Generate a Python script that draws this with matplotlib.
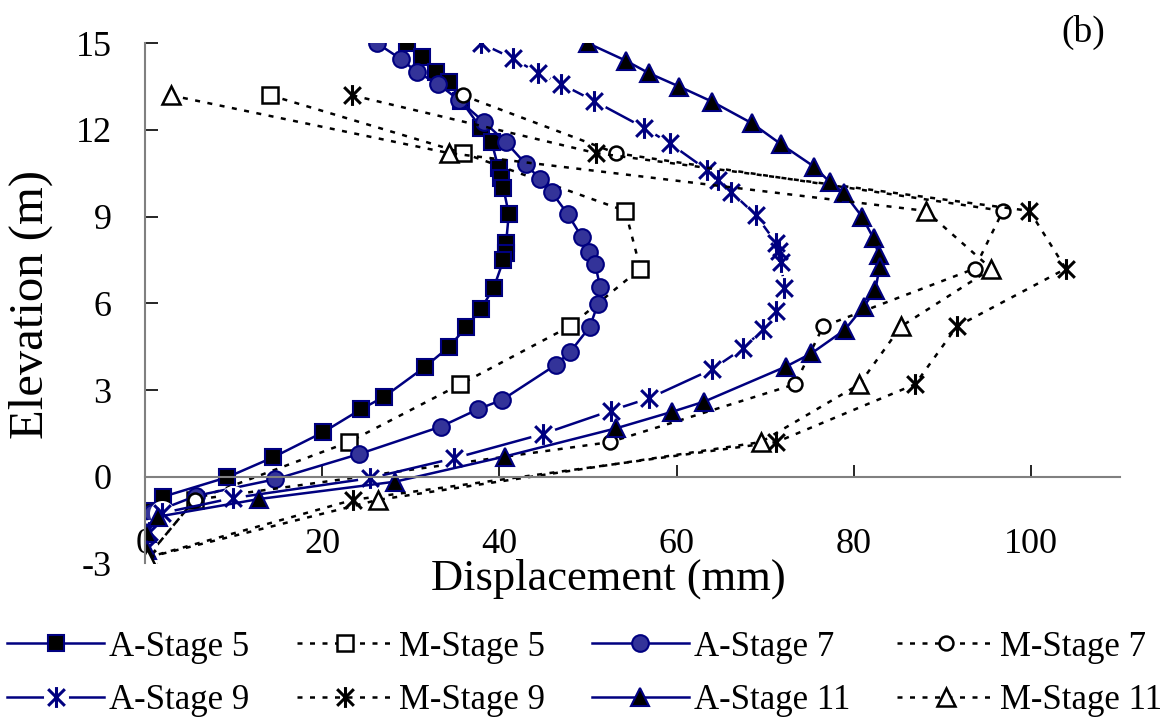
import matplotlib
matplotlib.use("Agg")
import matplotlib.pyplot as plt
from matplotlib.path import Path

plt.rcParams['font.family'] = ['Liberation Serif', 'DejaVu Serif']

# analysis results (A) and measured values (M), displacement in mm vs elevation in m
a5_x = [29.6, 31.3, 32.8, 34.3, 35.7, 37.9, 39.1, 39.9, 40.2, 40.45, 41.05, 40.75, 40.75, 40.45, 39.35,
        37.9, 36.25, 34.25, 31.55, 27.0, 24.4, 20.1, 14.45, 9.27, 2.06, 0.6, 0.2, 0.1, 0.0]
a5_y = [15.0, 14.53, 14.0, 13.66, 13.0, 12.07, 11.6, 10.67, 10.33, 9.98, 9.09, 8.1, 7.76, 7.5, 6.54,
        5.8, 5.17, 4.48, 3.79, 2.77, 2.34, 1.54, 0.67, -0.02, -0.69, -1.2, -1.9, -2.5, -2.9]

a7_x = [26.2, 28.9, 30.7, 33.05, 35.4, 38.2, 40.75, 43.0, 44.6, 45.9, 47.7, 49.3, 50.1, 50.8, 51.35,
        51.1, 50.2, 48.0, 46.4, 40.3, 37.6, 33.35, 24.1, 14.65, 5.8, 0.75, 0.2, 0.1, 0.0]
a7_y = [15.0, 14.45, 14.0, 13.6, 13.04, 12.29, 11.57, 10.81, 10.29, 9.84, 9.09, 8.29, 7.79, 7.35, 6.58,
        5.98, 5.19, 4.33, 3.88, 2.66, 2.34, 1.73, 0.78, -0.09, -0.66, -1.26, -1.9, -2.5, -2.9]

a9_x = [37.9, 41.5, 44.4, 46.9, 50.7, 56.3, 59.2, 63.4, 64.6, 66.1, 68.9, 71.2, 71.5, 71.8, 72.1,
        71.25, 69.75, 67.5, 64.0, 56.9, 52.6, 44.9, 34.9, 25.4, 9.9, 1.9, 0.4, 0.1, 0.0]
a9_y = [15.0, 14.48, 13.96, 13.6, 13.0, 12.08, 11.54, 10.62, 10.27, 9.87, 9.06, 8.1, 7.8, 7.44, 6.52,
        5.74, 5.1, 4.45, 3.72, 2.72, 2.29, 1.48, 0.64, -0.05, -0.74, -1.26, -1.9, -2.5, -2.9]

a11_x = [50.0, 54.25, 56.9, 60.3, 64.0, 68.5, 71.8, 75.5, 77.3, 78.9, 80.9, 82.2, 82.8, 82.9, 82.4,
         81.1, 78.95, 75.2, 72.3, 63.1, 59.5, 53.2, 40.6, 28.25, 12.9, 1.5, 0.2, 0.2, 0.2]
a11_y = [15.0, 14.4, 13.96, 13.5, 12.98, 12.23, 11.5, 10.73, 10.19, 9.81, 9.0, 8.25, 7.67, 7.27, 6.46,
         5.89, 5.08, 4.27, 3.81, 2.6, 2.25, 1.68, 0.7, -0.17, -0.77, -1.38, -1.95, -2.53, -3.0]

m_elev = [13.2, 11.2, 9.2, 7.2, 5.2, 3.2, 1.2, -0.8, -2.8]
m5_x = [14.16, 35.9, 54.2, 55.9, 47.9, 35.6, 23.0, 5.6, 0.2]
m7_x = [35.85, 53.15, 96.8, 93.6, 76.5, 73.35, 52.5, 5.6, 0.2]
m9_x = [23.4, 50.9, 99.8, 103.9, 91.6, 86.9, 71.25, 23.5, 0.2]
m11_x = [2.9, 34.3, 88.1, 95.5, 85.3, 80.6, 69.5, 26.3, 0.2]

x_ticks = [0, 20, 40, 60, 80, 100]
y_ticks = [-3, 0, 3, 6, 9, 12, 15]

navy = '#000080'
# six-armed star like the spreadsheet marker
star = Path([(-1, -1), (1, 1), (-1, 1), (1, -1), (0, -1.25), (0, 1.25)],
            [Path.MOVETO, Path.LINETO, Path.MOVETO, Path.LINETO, Path.MOVETO, Path.LINETO])
mdash = (0, (2, 3))

fig = plt.figure(figsize=(11.69, 7.17), dpi=100)
ax = fig.add_axes([0.124, 0.2142, 0.834, 0.7254])

h_a5, = ax.plot(a5_x, a5_y, color=navy, lw=1.8, marker='s', ms=11, mfc='black', mec=navy, mew=1.5)
h_m5, = ax.plot(m5_x, m_elev, color='black', lw=1.8, ls=mdash, marker='s', ms=12, mfc='white',
                mec='black', mew=1.8)
h_a7, = ax.plot(a7_x, a7_y, color=navy, lw=1.8, marker='o', ms=12, mfc='#333399', mec=navy, mew=1.5)
h_m7, = ax.plot(m7_x, m_elev, color='black', lw=1.8, ls=mdash, marker='o', ms=10, mfc='white',
                mec='black', mew=1.8)
h_a9l, = ax.plot(a9_x, a9_y, color=navy, lw=1.8)
h_a9w, = ax.plot(a9_x, a9_y, ls='none', marker='o', ms=18, mfc='white', mec='none')
h_a9m, = ax.plot(a9_x, a9_y, ls='none', marker=star, ms=15, mec=navy, mew=2.2)
h_m9, = ax.plot(m9_x, m_elev, color='black', lw=1.8, ls=mdash, marker=star, ms=15, mec='black', mew=2.2)
h_a11, = ax.plot(a11_x, a11_y, color=navy, lw=1.8, marker='^', ms=13, mfc='black', mec=navy, mew=1.5)
h_m11, = ax.plot(m11_x, m_elev, color='black', lw=1.8, ls=mdash, marker='^', ms=13, mfc='white',
                 mec='black', mew=1.8)

ax.set_xlim(0, 110)
ax.set_ylim(-3, 15)
ax.set_xticks(x_ticks)
ax.set_yticks(y_ticks)
ax.set_xticklabels([str(v) for v in x_ticks])
ax.set_yticklabels([str(v) for v in y_ticks])

for side in ['top', 'right']:
    ax.spines[side].set_visible(False)
ax.spines['bottom'].set_position(('data', 0))
ax.spines['bottom'].set_color('#808080')
ax.spines['left'].set_color('#808080')
ax.spines['bottom'].set_linewidth(1.5)
ax.spines['left'].set_linewidth(1.5)
ax.tick_params(axis='x', direction='in', length=9, width=1.2, pad=37, labelsize=26)
ax.tick_params(axis='y', direction='in', length=9, width=1.2, pad=24, labelsize=26)

fig.text(0.52, 0.193, 'Displacement (mm)', ha='center', va='center', fontsize=32)
fig.text(0.026, 0.575, 'Elevation (m)', ha='center', va='center', rotation=90, fontsize=35)
fig.text(0.927, 0.955, '(b)', ha='center', va='center', fontsize=27)

# legend filled column by column, so order the entries to read across two rows
handles = [h_a5, (h_a9l, h_a9w, h_a9m), h_m5, h_m9, h_a7, h_a11, h_m7, h_m11]
labels = ['A-Stage 5', 'A-Stage 9', 'M-Stage 5', 'M-Stage 9',
          'A-Stage 7', 'A-Stage 11', 'M-Stage 7', 'M-Stage 11']
fig.legend(handles, labels, loc='center', bbox_to_anchor=(0.5, 0.06), ncol=4, frameon=False,
           fontsize=25, numpoints=1, handlelength=2.8, handletextpad=0.15, columnspacing=1.35,
           labelspacing=0.6, borderaxespad=0, borderpad=0)

fig.savefig('out.png', dpi=100)
